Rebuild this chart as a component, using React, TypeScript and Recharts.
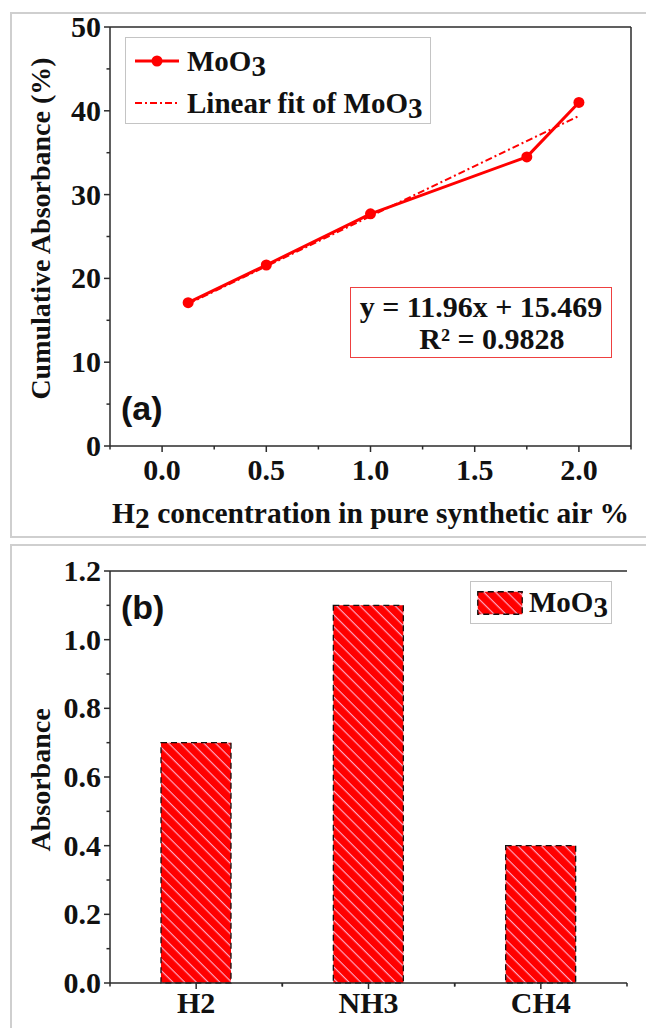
import React from 'react';
import { LineChart, Line, BarChart, Bar, XAxis, YAxis, ReferenceLine, Legend } from 'recharts';

// panel (a): cumulative absorbance vs H2 concentration
const concentration = [0.125, 0.5, 1.0, 1.75, 2.0];
const cumulativeAbs = [17.1, 21.6, 27.7, 34.5, 41.0];
const fitX = [0.125, 2.0];
const fitY = [16.96, 39.39];
const xTicksA = [-0.25, 0, 0.25, 0.5, 0.75, 1, 1.25, 1.5, 1.75, 2, 2.25];
const xMajorA = [0, 0.5, 1, 1.5, 2];
const yTicksA = [0, 5, 10, 15, 20, 25, 30, 35, 40, 45, 50];
const yMajorA = [0, 10, 20, 30, 40, 50];

// panel (b): absorbance per gas
const gases = ['H2', 'NH3', 'CH4'];
const gasAbsorbance = [0.7, 1.1, 0.4];
const yTicksB = [0, 0.1, 0.2, 0.3, 0.4, 0.5, 0.6, 0.7, 0.8, 0.9, 1.0, 1.1, 1.2];
const yMajorB = [0, 0.2, 0.4, 0.6, 0.8, 1.0, 1.2];

const RED = '#ff0000';
const AXIS = '#2b2b2b';
const SERIF = '"Liberation Serif", "Times New Roman", serif';
const SANS = '"Liberation Sans", Arial, sans-serif';

const lineData = concentration.map((x, i) => ({ x, y: cumulativeAbs[i] }));
const fitData = fitX.map((x, i) => ({ x, y: fitY[i] }));
const barData = gases.map((name, i) => ({ name, value: gasAbsorbance[i] }));

const W = 646;
const marginB = { top: 26, right: 19, bottom: 0, left: 10 };
const yAxisW = 100;
const bandB = (W - marginB.left - marginB.right - yAxisW) / gases.length;

const tickText = { fontFamily: SERIF, fontWeight: 700, fontSize: 30, fill: '#111' };

const Hatch = ({ id }: { id: string }) => (
  <pattern id={id} patternUnits="userSpaceOnUse" width={8.3} height={8.3} patternTransform="rotate(-45)">
    <rect width={8.3} height={8.3} fill={RED} />
    <line x1={4} y1={0} x2={4} y2={8.3} stroke="#ffb3cf" strokeWidth={1.1} />
  </pattern>
);

const XTickA = (props: any) => {
  const { x, y, payload } = props;
  const major = xMajorA.includes(payload.value);
  return (
    <g>
      <line x1={x} x2={x} y1={y} y2={y + (major ? 6 : 3.5)} stroke={AXIS} strokeWidth={1.5} />
      {major && (
        <text x={x} y={y + 34} textAnchor="middle" {...tickText}>
          {payload.value.toFixed(1)}
        </text>
      )}
    </g>
  );
};

const YTickA = (props: any) => {
  const { x, y, payload } = props;
  const major = yMajorA.includes(payload.value);
  return (
    <g>
      <line x1={x - (major ? 6 : 3.5)} x2={x} y1={y} y2={y} stroke={AXIS} strokeWidth={1.5} />
      {major && (
        <text x={x - 9} y={y + 10} textAnchor="end" {...tickText}>
          {payload.value}
        </text>
      )}
    </g>
  );
};

const XTickB = (props: any) => {
  const { x, y, payload } = props;
  return (
    <g>
      <line x1={x} x2={x} y1={y} y2={y + 6} stroke={AXIS} strokeWidth={1.5} />
      <line x1={x - bandB / 2} x2={x - bandB / 2} y1={y} y2={y + 3.5} stroke={AXIS} strokeWidth={1.5} />
      <line x1={x + bandB / 2} x2={x + bandB / 2} y1={y} y2={y + 3.5} stroke={AXIS} strokeWidth={1.5} />
      <text x={x} y={y + 30} textAnchor="middle" {...tickText}>
        {payload.value}
      </text>
    </g>
  );
};

const YTickB = (props: any) => {
  const { x, y, payload } = props;
  const major = yMajorB.includes(payload.value);
  return (
    <g>
      <line x1={x - (major ? 6 : 3.5)} x2={x} y1={y} y2={y} stroke={AXIS} strokeWidth={1.5} />
      {major && (
        <text x={x - 9} y={y + 10} textAnchor="end" {...tickText}>
          {payload.value.toFixed(1)}
        </text>
      )}
    </g>
  );
};

const titleText = { fontFamily: SERIF, fontWeight: 700, fontSize: 29.5, fill: '#111' };

const XTitleA = (props: any) => {
  const { viewBox } = props;
  const cx = viewBox.x + viewBox.width / 2;
  return (
    <text x={cx} y={viewBox.y + 77} textAnchor="middle" {...titleText}>
      H<tspan dy={5}>2</tspan>
      <tspan dy={-5}> concentration in pure synthetic air %</tspan>
    </text>
  );
};

const YTitle = (label: string, shift: number) => (props: any) => {
  const { viewBox } = props;
  const cx = viewBox.x + 30;
  const cy = viewBox.y + viewBox.height / 2 + shift;
  return (
    <text
      x={cx}
      y={cy}
      transform={`rotate(-90, ${cx}, ${cy})`}
      textAnchor="middle"
      dominantBaseline="central"
      {...titleText}
      fontSize={28}
    >
      {label}
    </text>
  );
};

const Sub3 = () => <span style={{ position: 'relative', top: 5 }}>3</span>;

const legendText: React.CSSProperties = {
  fontFamily: SERIF,
  fontWeight: 700,
  fontSize: 29,
  color: '#111',
  whiteSpace: 'nowrap',
};

const LegendA = () => (
  <div
    style={{
      width: 306,
      height: 87,
      boxSizing: 'border-box',
      border: '1.5px solid #c4c4c4',
      background: '#fff',
      paddingTop: 2,
      paddingLeft: 9,
    }}
  >
    <div style={{ display: 'flex', alignItems: 'center', height: 42 }}>
      <svg width={46} height={20} style={{ marginRight: 6 }}>
        <line x1={0} x2={44} y1={10} y2={10} stroke={RED} strokeWidth={3} />
        <circle cx={22} cy={10} r={5.5} fill={RED} />
      </svg>
      <span style={legendText}>
        MoO<Sub3 />
      </span>
    </div>
    <div style={{ display: 'flex', alignItems: 'center', height: 42 }}>
      <svg width={46} height={20} style={{ marginRight: 6 }}>
        <line x1={0} x2={44} y1={10} y2={10} stroke={RED} strokeWidth={1.8} strokeDasharray="7 3 2 3" />
      </svg>
      <span style={legendText}>
        Linear fit of MoO<Sub3 />
      </span>
    </div>
  </div>
);

const LegendB = () => (
  <div
    style={{
      width: 142,
      height: 43,
      boxSizing: 'border-box',
      border: '1.5px solid #c4c4c4',
      background: '#fff',
      display: 'flex',
      alignItems: 'center',
      paddingLeft: 6,
    }}
  >
    <svg width={46} height={24} style={{ marginRight: 6 }}>
      <defs>
        <Hatch id="hatchLegend" />
      </defs>
      <rect x={0.75} y={0.75} width={44.5} height={22.5} fill="url(#hatchLegend)" stroke="#111" strokeWidth={1.3} strokeDasharray="6 4" />
    </svg>
    <span style={legendText}>
      MoO<Sub3 />
    </span>
  </div>
);

const frame: React.CSSProperties = {
  position: 'absolute',
  left: 10,
  width: 660,
  border: '2px solid #cfcfcf',
  boxSizing: 'border-box',
};

export default function App() {
  return (
    <div style={{ position: 'absolute', left: 0, top: 0, width: W, height: 1028, overflow: 'hidden', background: '#fff' }}>
      <div style={{ ...frame, top: 12, height: 526 }} />
      <div style={{ ...frame, top: 544, height: 500 }} />

      <div style={{ position: 'absolute', left: 0, top: 0 }}>
        <LineChart width={W} height={540} margin={{ top: 27, right: 15, bottom: 14, left: 10 }}>
          <XAxis
            dataKey="x"
            type="number"
            domain={[-0.25, 2.25]}
            ticks={xTicksA}
            interval={0}
            allowDataOverflow
            height={80}
            tickSize={0}
            tickMargin={0}
            tickLine={false}
            tick={<XTickA />}
            axisLine={{ stroke: AXIS, strokeWidth: 1.5 }}
            label={{ content: XTitleA }}
          />
          <YAxis
            type="number"
            domain={[0, 50]}
            ticks={yTicksA}
            interval={0}
            width={yAxisW}
            tickSize={0}
            tickMargin={0}
            tickLine={false}
            tick={<YTickA />}
            axisLine={{ stroke: AXIS, strokeWidth: 1.5 }}
            label={{ content: YTitle('Cumulative Absorbance (%)', -8) }}
          />
          <ReferenceLine y={50} stroke={AXIS} strokeWidth={1.5} />
          <ReferenceLine x={2.25} stroke={AXIS} strokeWidth={1.5} />
          <Line
            data={fitData}
            dataKey="y"
            stroke={RED}
            strokeWidth={2}
            strokeDasharray="7 3 2 3"
            dot={false}
            activeDot={false}
            isAnimationActive={false}
          />
          <Line
            data={lineData}
            dataKey="y"
            stroke={RED}
            strokeWidth={3}
            dot={{ r: 5.5, fill: RED, stroke: RED, strokeWidth: 0 }}
            activeDot={false}
            isAnimationActive={false}
          />
          <Legend
            layout="vertical"
            align="center"
            verticalAlign="middle"
            wrapperStyle={{ left: 125, top: 37, width: 306 }}
            content={() => <LegendA />}
          />
        </LineChart>
      </div>

      <div
        style={{
          position: 'absolute',
          left: 350,
          top: 287,
          width: 262,
          height: 71,
          boxSizing: 'border-box',
          border: '1.5px solid #ee4040',
          background: '#fff',
          paddingTop: 3,
          textAlign: 'center',
          fontFamily: SERIF,
          fontWeight: 700,
          fontSize: 30,
          lineHeight: '32px',
          color: '#111',
          whiteSpace: 'nowrap',
        }}
      >
        <div>y = 11.96x + 15.469</div>
        <div style={{ paddingLeft: 22 }}>R² = 0.9828</div>
      </div>

      <div style={{ position: 'absolute', left: 121, top: 389, fontFamily: SANS, fontWeight: 700, fontSize: 34, lineHeight: '38px', color: '#111' }}>
        (a)
      </div>

      <div style={{ position: 'absolute', left: 0, top: 545 }}>
        <BarChart width={W} height={483} data={barData} margin={marginB}>
          <defs>
            <Hatch id="hatchBar" />
          </defs>
          <XAxis
            dataKey="name"
            type="category"
            height={45}
            interval={0}
            tickSize={0}
            tickMargin={0}
            tickLine={false}
            tick={<XTickB />}
            axisLine={{ stroke: AXIS, strokeWidth: 1.5 }}
          />
          <YAxis
            type="number"
            domain={[0, 1.2]}
            ticks={yTicksB}
            interval={0}
            width={yAxisW}
            tickSize={0}
            tickMargin={0}
            tickLine={false}
            tick={<YTickB />}
            axisLine={{ stroke: AXIS, strokeWidth: 1.5 }}
            label={{ content: YTitle('Absorbance', 3) }}
          />
          <YAxis
            yAxisId="right"
            orientation="right"
            type="number"
            domain={[0, 1.2]}
            width={0}
            tick={false}
            tickLine={false}
            axisLine={{ stroke: AXIS, strokeWidth: 1.5 }}
          />
          <ReferenceLine y={1.2} stroke={AXIS} strokeWidth={1.5} />
          <Bar
            dataKey="value"
            barSize={70}
            fill="url(#hatchBar)"
            stroke="#111"
            strokeWidth={1.3}
            strokeDasharray="6 4"
            isAnimationActive={false}
          />
          <Legend
            layout="vertical"
            align="center"
            verticalAlign="middle"
            wrapperStyle={{ left: 470, top: 36, width: 142 }}
            content={() => <LegendB />}
          />
        </BarChart>
      </div>

      <div style={{ position: 'absolute', left: 121, top: 588, fontFamily: SANS, fontWeight: 700, fontSize: 34, lineHeight: '38px', color: '#111' }}>
        (b)
      </div>
    </div>
  );
}
